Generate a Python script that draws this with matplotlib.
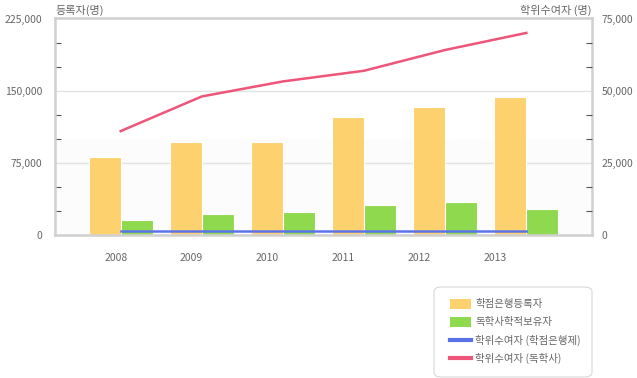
import matplotlib
matplotlib.use("Agg")
import matplotlib.pyplot as plt
from matplotlib.patches import Patch, FancyBboxPatch
from matplotlib.lines import Line2D
import numpy as np

plt.rcParams['font.family'] = ['Noto Sans CJK KR', 'DejaVu Sans']

years = ['2008', '2009', '2010', '2011', '2012', '2013']
credit_bank_registrants = [81000, 96500, 96500, 122500, 133000, 143500]
self_study_credit_holders = [15600, 21800, 23900, 31200, 34300, 27000]
degrees_credit_bank = [1300, 1300, 1300, 1300, 1300, 1300]
degrees_self_study = [36000, 48000, 53200, 56900, 64100, 70000]

series_names = ['학점은행등록자', '독학사학적보유자', '학위수여자 (학점은행제)', '학위수여자 (독학사)']
left_title = '등록자(명)'
right_title = '학위수여자 (명)'

c_orange = '#FDD16E'
c_green = '#8FD94F'
c_blue = '#5B73E8'
c_pink = '#EE5578'
c_text = '#666666'

W, H = 637, 378
fig = plt.figure(figsize=(W / 100, H / 100), dpi=100)
left, right, top, bottom = 55, 592, 18.5, 235
ax = fig.add_axes([left / W, (H - bottom) / H, (right - left) / W, (bottom - top) / H])
ax.set_facecolor('white')
ax.axhspan(0, 100000, color='#fcfcfc', zorder=0, linewidth=0)

x = np.arange(len(years))
bw = 0.395
ax.bar(x - bw / 2, credit_bank_registrants, width=bw, color=c_orange, edgecolor='white', linewidth=0.8, zorder=2)
ax.bar(x + bw / 2, self_study_credit_holders, width=bw, color=c_green, edgecolor='white', linewidth=0.8, zorder=2)

ax.set_xlim(-0.81, 5.81)
ax.set_ylim(0, 225000)
ax.set_yticks([0, 75000, 150000, 225000])
ax.set_yticklabels(['0', '75,000', '150,000', '225,000'])
ax.set_yticks(np.arange(0, 225001, 25000), minor=True)
ax.grid(axis='y', which='major', color='#e2e2e2', linewidth=1, zorder=1)
ax.tick_params(axis='y', which='major', length=0, labelsize=7.5, labelcolor=c_text, pad=9)
ax.tick_params(axis='y', which='minor', direction='in', length=4, color='#555555', width=0.8)
label_pos = x * 0.934 - 0.06
ax.set_xticks(label_pos)
ax.set_xticklabels(years)
ax.tick_params(axis='x', length=0, labelsize=7.5, labelcolor=c_text, pad=13)

for s in ax.spines.values():
    s.set_color('#d0d0d0')
    s.set_linewidth(1.8)

ax2 = ax.twinx()
ax2.set_ylim(0, 75000)
ax2.set_yticks([0, 25000, 50000, 75000])
ax2.set_yticklabels(['0', '25,000', '50,000', '75,000'])
ax2.set_yticks(np.arange(0, 75001, 25000 / 3), minor=True)
ax2.tick_params(axis='y', which='major', length=0, labelsize=7.5, labelcolor=c_text, pad=7)
ax2.tick_params(axis='y', which='minor', direction='in', length=4, color='#555555', width=0.8)
for s in ax2.spines.values():
    s.set_visible(False)
ax2.plot(x, degrees_credit_bank, color=c_blue, linewidth=1.8, zorder=3)
ax2.plot(x, degrees_self_study, color=c_pink, linewidth=1.8, zorder=3)

fig.text(left / W, 1 - 10 / H, left_title, ha='left', va='center', fontsize=8, color=c_text)
fig.text(right / W, 1 - 10 / H, right_title, ha='right', va='center', fontsize=8, color=c_text)

# legend frame
box = FancyBboxPatch((434 / W, 1 - 377 / H), (592 - 434) / W, (377 - 287) / H,
                     boxstyle='round,pad=0,rounding_size=0.012', transform=fig.transFigure,
                     facecolor='white', edgecolor='#d8d8d8', linewidth=0.8)
fig.patches.append(box)

handles = [Patch(facecolor=c_orange, edgecolor='none'),
           Patch(facecolor=c_green, edgecolor='none'),
           Line2D([], [], color=c_blue, linewidth=3),
           Line2D([], [], color=c_pink, linewidth=3)]
leg = fig.legend(handles, series_names, loc='upper left', bbox_to_anchor=(450 / W, 1 - 299 / H),
                 frameon=False, fontsize=7.5, labelcolor=c_text, handlelength=2.0, handleheight=1.05,
                 handletextpad=0.4, labelspacing=0.72, borderpad=0, borderaxespad=0)

fig.savefig('out.png', dpi=100)
